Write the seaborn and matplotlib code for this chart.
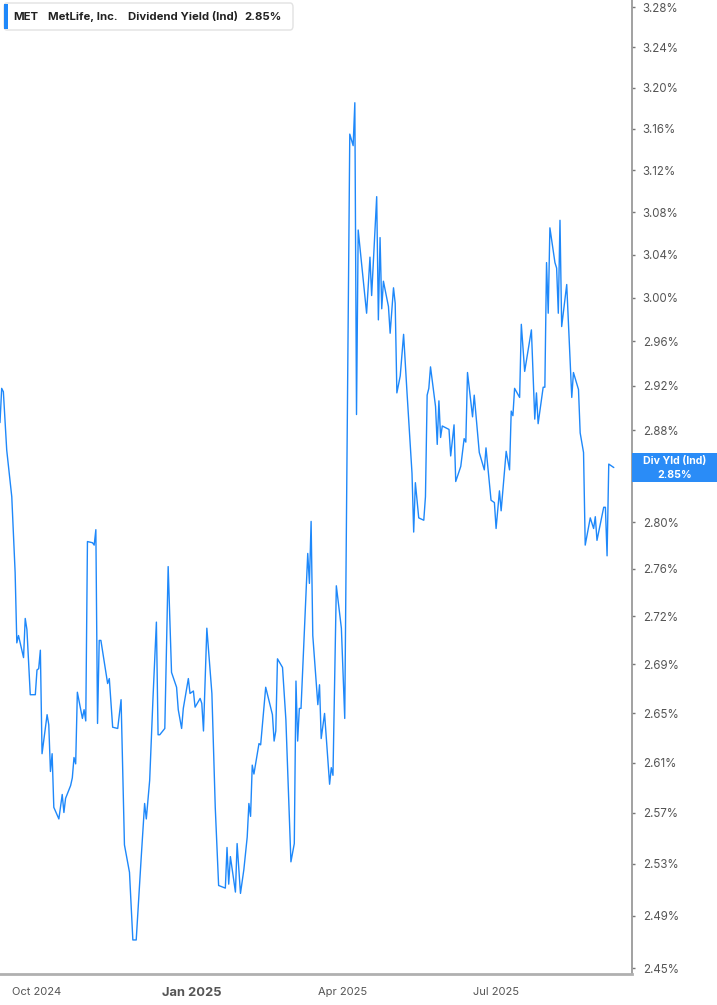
import numpy as np
import pandas as pd
import matplotlib
matplotlib.use("Agg")
import matplotlib.pyplot as plt
from matplotlib.patches import Rectangle, FancyBboxPatch
import seaborn as sns

# ---------------- data ----------------
start_date = "2024-09-09"
day_offset = [
    0, 1, 2, 4, 7, 9, 10, 11, 14, 15,
    16, 18, 21, 22, 23, 24, 25, 28, 29, 30,
    31, 32, 35, 37, 38, 39, 42, 43, 44, 45,
    46, 49, 50, 51, 52, 55, 56, 57, 58, 59,
    60, 64, 65, 67, 70, 72, 74, 77, 78, 79,
    81, 84, 86, 87, 89, 91, 93, 94, 95, 98,
    100, 102, 105, 106, 108, 109, 112, 113, 115, 116,
    119, 120, 121, 123, 126, 128, 130, 134, 135, 136,
    137, 140, 141, 143, 145, 147, 148, 149, 150, 151,
    154, 155, 158, 162, 163, 164, 165, 168, 170, 173,
    175, 176, 177, 178, 179, 183, 184, 185, 186, 189,
    190, 191, 193, 196, 197, 198, 200, 203, 205, 208,
    210, 211, 212, 213, 218, 220, 221, 224, 225, 226,
    227, 228, 231, 232, 234, 235, 236, 238, 240, 242,
    245, 246, 247, 249, 252, 253, 254, 255, 256, 259,
    260, 261, 262, 263, 267, 268, 270, 271, 274, 276,
    277, 278, 281, 282, 285, 288, 289, 292, 294, 295,
    297, 298, 301, 303, 304, 305, 306, 309, 310, 312,
    316, 318, 319, 320, 323, 324, 325, 326, 327, 330,
    331, 332, 333, 334, 337, 340, 341, 344, 345, 347,
    348, 351, 353, 354, 355, 359, 360, 361, 362, 364, 365,
]
div_yield = [
    2.889, 2.919, 2.916, 2.865, 2.825, 2.761, 2.703, 2.709, 2.691, 2.723,
    2.714, 2.661, 2.661, 2.681, 2.682, 2.697, 2.614, 2.645, 2.637, 2.600,
    2.614, 2.572, 2.563, 2.582, 2.568, 2.579, 2.589, 2.595, 2.611, 2.606,
    2.663, 2.642, 2.649, 2.640, 2.787, 2.786, 2.784, 2.797, 2.638, 2.705,
    2.705, 2.670, 2.674, 2.635, 2.634, 2.657, 2.543, 2.522, 2.497, 2.471,
    2.471, 2.534, 2.575, 2.563, 2.593, 2.659, 2.720, 2.629, 2.629, 2.634,
    2.766, 2.679, 2.667, 2.649, 2.634, 2.650, 2.674, 2.662, 2.664, 2.651,
    2.658, 2.654, 2.632, 2.715, 2.662, 2.572, 2.512, 2.510, 2.541, 2.513,
    2.534, 2.507, 2.544, 2.506, 2.524, 2.549, 2.575, 2.565, 2.605, 2.598,
    2.622, 2.621, 2.667, 2.645, 2.624, 2.632, 2.690, 2.683, 2.641, 2.530,
    2.544, 2.672, 2.624, 2.650, 2.650, 2.777, 2.752, 2.804, 2.709, 2.653,
    2.669, 2.626, 2.646, 2.590, 2.603, 2.597, 2.750, 2.715, 2.642, 3.152,
    3.141, 3.182, 2.896, 3.062, 2.986, 3.037, 3.002, 3.093, 2.980, 3.055,
    2.990, 3.015, 2.992, 2.968, 3.009, 2.995, 2.915, 2.930, 2.967, 2.916,
    2.845, 2.795, 2.837, 2.807, 2.805, 2.825, 2.913, 2.919, 2.938, 2.903,
    2.870, 2.908, 2.876, 2.886, 2.883, 2.860, 2.887, 2.838, 2.851, 2.875,
    2.872, 2.933, 2.894, 2.913, 2.863, 2.848, 2.867, 2.822, 2.820, 2.798,
    2.830, 2.813, 2.864, 2.848, 2.899, 2.895, 2.919, 2.911, 2.976, 2.934,
    2.971, 2.892, 2.915, 2.888, 2.920, 2.920, 3.032, 2.986, 3.064, 3.032,
    3.027, 2.986, 3.071, 2.974, 3.012, 2.911, 2.933, 2.918, 2.880, 2.863,
    2.784, 2.807, 2.798, 2.808, 2.788, 2.816, 2.816, 2.775, 2.853, 2.851, 2.850,
]
ytick_labels = ["2.45%", "2.49%", "2.53%", "2.57%", "2.61%", "2.65%", "2.69%",
                "2.72%", "2.76%", "2.80%", "2.84%", "2.88%", "2.92%", "2.96%",
                "3.00%", "3.04%", "3.08%", "3.12%", "3.16%", "3.20%", "3.24%", "3.28%"]
xtick_dates = ["2024-10-01", "2025-01-01", "2025-04-01", "2025-07-01"]
xtick_labels = ["Oct 2024", "Jan 2025", "Apr 2025", "Jul 2025"]
ticker = "MET"
company = "MetLife, Inc."
metric = "Dividend Yield (Ind)"
last_value = "2.85%"
side_label = "Div Yld (Ind)"

# ---------------- figure ----------------
sns.set_style("white")
plt.rcParams["font.family"] = ["Inter", "DejaVu Sans"]

W, H = 717, 1005
fig = plt.figure(figsize=(W / 100, H / 100), dpi=100)
fig.patch.set_facecolor("white")

def fx(px):
    return px / W

def fy(py):
    return 1 - py / H

ax_right, ax_bottom = 632.3, 974.3
ax = fig.add_axes([0, fy(ax_bottom), fx(ax_right), 1 - fy(ax_bottom)])

df = pd.DataFrame({
    "date": pd.Timestamp(start_date) + pd.to_timedelta(day_offset, unit="D"),
    "yield": div_yield,
})
line_color = "#1E88FA"
sns.lineplot(data=df, x="date", y="yield", ax=ax, color=line_color, linewidth=1.0)

ax.set_yscale("log")
ymin_tick, ymax_tick = 2.4498, 3.2751
ytick_pos = np.linspace(ymin_tick, ymax_tick, len(ytick_labels))
ax.set_ylim(2.4455, 3.2823)
ax.yaxis.set_major_locator(matplotlib.ticker.FixedLocator(ytick_pos))
ax.yaxis.set_minor_locator(matplotlib.ticker.NullLocator())
ax.set_yticklabels(ytick_labels)
ax.yaxis.tick_right()
ax.tick_params(axis="y", which="major", direction="out", length=2.5, width=1,
               color="#777777", labelsize=8.3, labelcolor="#555555", pad=5)

x0 = pd.Timestamp(start_date)
ax.set_xlim(x0, x0 + pd.Timedelta(days=376))
ax.set_xticks(pd.to_datetime(xtick_dates))
ax.set_xticklabels(xtick_labels)
ax.tick_params(axis="x", direction="out", length=5, width=1, color="#aaaaaa",
               labelsize=8.0, labelcolor="#555555", pad=4)
for lbl in ax.get_xticklabels():
    if lbl.get_text() == "Jan 2025":
        lbl.set_fontweight("bold")
        lbl.set_fontsize(9.3)

ax.set_xlabel("")
ax.set_ylabel("")
ax.grid(False)
for side in ["top", "left"]:
    ax.spines[side].set_visible(False)
ax.spines["bottom"].set_color("#b0b0b0")
ax.spines["bottom"].set_linewidth(2)
ax.spines["right"].set_color("#9a9a9a")
ax.spines["right"].set_linewidth(1.3)
ax.set_facecolor("white")

# ---------------- legend box (top-left) ----------------
box = FancyBboxPatch((fx(4), fy(30)), fx(293) - fx(4), fy(3) - fy(30),
                     boxstyle="round,pad=0,rounding_size=0.004",
                     transform=fig.transFigure, facecolor="white",
                     edgecolor="#e2e2e2", linewidth=1, zorder=10)
fig.patches.append(box)
bar = Rectangle((fx(4), fy(29)), fx(8) - fx(4), fy(4) - fy(29),
                transform=fig.transFigure, facecolor=line_color,
                edgecolor="none", zorder=11)
fig.patches.append(bar)
legend_y = fy(17)
for txt, px in [(ticker, 13), (company, 48), (metric, 128), (last_value, 244)]:
    fig.text(fx(px), legend_y, txt, fontsize=8.2, fontweight="bold",
             color="#222222", va="center", ha="left", zorder=12)

# ---------------- right-side value label ----------------
lab = Rectangle((fx(632), fy(482)), fx(717) - fx(632), fy(453) - fy(482),
                transform=fig.transFigure, facecolor="#2A8CF7",
                edgecolor="none", zorder=20)
fig.patches.append(lab)
fig.text(fx(675), fy(460.5), side_label, color="white", fontsize=7.6,
         fontweight="bold", ha="center", va="center", zorder=21)
fig.text(fx(675), fy(474.5), last_value, color="white", fontsize=7.6,
         fontweight="bold", ha="center", va="center", zorder=21)

fig.savefig("out.png", dpi=100, facecolor="white")
